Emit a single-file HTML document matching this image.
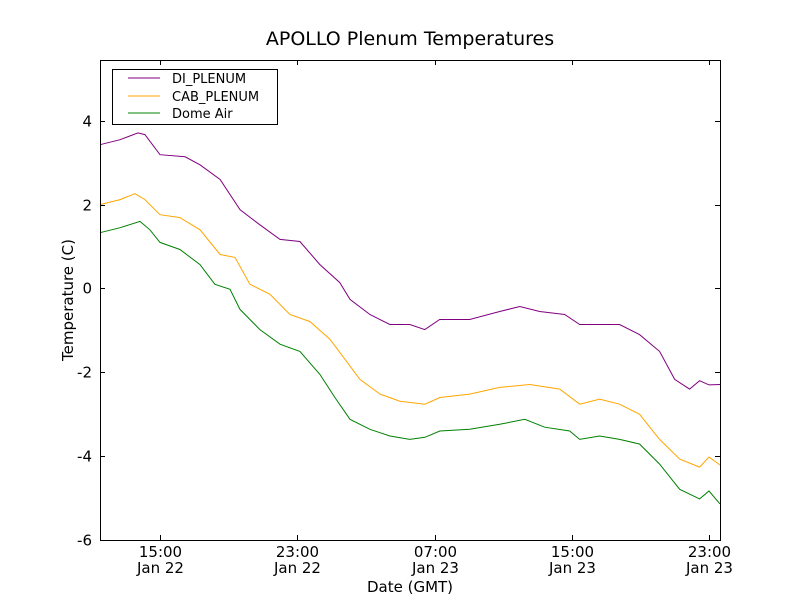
<!DOCTYPE html>
<html><head><meta charset="utf-8"><style>
body{margin:0;background:#fff;}
svg text{font-family:"DejaVu Sans","Liberation Sans",sans-serif;}
</style></head><body>
<svg id="chart" width="800" height="600" viewBox="0 0 800 600">
<rect x="0" y="0" width="800" height="600" fill="#fff"/>
<text x="410" y="45" font-size="19" text-anchor="middle">APOLLO Plenum Temperatures</text>
<g id="plot"></g>
<rect x="100.5" y="60.5" width="620" height="480" fill="none" stroke="#000"/>
<g id="axes"></g>
<text x="410" y="592" font-size="15" text-anchor="middle">Date (GMT)</text>
<text transform="translate(73,300) rotate(-90)" font-size="15" text-anchor="middle">Temperature (C)</text>
<g>
<rect x="112.5" y="69.5" width="165" height="55" fill="#fff" stroke="#000"/>
<line x1="128" y1="78" x2="160" y2="78" stroke="purple"/>
<text x="172" y="83" font-size="13">DI_PLENUM</text>
<line x1="128" y1="96" x2="160" y2="96" stroke="orange"/>
<text x="172" y="101" font-size="13">CAB_PLENUM</text>
<line x1="128" y1="113" x2="160" y2="113" stroke="green"/>
<text x="172" y="118" font-size="13">Dome Air</text>
</g>
</svg>
<script>
// hours since Jan 22 00:00 GMT
const diTimes=[11.5,12.67,13.71,14.12,15.0,16.46,17.33,18.5,19.66,20.82,21.99,23.15,24.32,25.48,26.07,27.23,28.4,29.56,30.43,31.3,33.05,34.8,35.97,37.13,38.59,39.46,40.62,41.79,42.95,44.12,45.0,45.87,46.45,47.0,47.64];
const diValues=[3.43,3.55,3.71,3.67,3.19,3.14,2.95,2.6,1.88,1.52,1.17,1.12,0.57,0.14,-0.26,-0.62,-0.86,-0.86,-0.98,-0.74,-0.74,-0.55,-0.43,-0.55,-0.62,-0.86,-0.86,-0.86,-1.1,-1.5,-2.17,-2.4,-2.2,-2.3,-2.29];
const cabTimes=[11.5,12.67,13.54,14.12,15.0,16.16,17.33,18.5,19.37,20.24,21.41,22.57,23.74,24.9,25.78,26.65,27.82,28.98,30.44,31.31,33.05,34.8,36.55,38.3,39.46,40.62,41.79,42.95,44.12,45.29,46.45,47.0,47.64];
const cabValues=[2.0,2.12,2.26,2.12,1.76,1.69,1.4,0.81,0.74,0.1,-0.14,-0.62,-0.79,-1.21,-1.69,-2.17,-2.52,-2.69,-2.76,-2.6,-2.52,-2.36,-2.29,-2.4,-2.76,-2.64,-2.76,-3.0,-3.6,-4.07,-4.26,-4.02,-4.21];
const domeTimes=[11.5,12.67,13.83,14.41,15.0,16.16,17.33,18.2,19.08,19.66,20.82,21.99,23.15,24.32,25.19,26.07,27.23,28.4,29.56,30.44,31.31,33.05,34.8,36.26,37.42,38.88,39.46,40.62,41.79,42.95,44.12,45.29,46.45,47.0,47.64];
const domeValues=[1.33,1.45,1.6,1.4,1.1,0.93,0.57,0.1,-0.02,-0.5,-0.98,-1.33,-1.5,-2.05,-2.6,-3.12,-3.36,-3.52,-3.6,-3.55,-3.4,-3.36,-3.24,-3.12,-3.31,-3.4,-3.6,-3.52,-3.6,-3.71,-4.19,-4.79,-5.02,-4.83,-5.14];
const yTicks=[4,2,0,-2,-4,-6];
const yTickLabels=["4","2","0","-2","-4","-6"];
const xTicks=[15,23,31,39,47];
const xTickTimes=["15:00","23:00","07:00","15:00","23:00"];
const xTickDates=["Jan 22","Jan 22","Jan 23","Jan 23","Jan 23"];

const L=100,R=720,T=60,B=540,X0=11.5,X1=47.64,Y0=-6,Y1=5.45;
const xs=h=>L+(h-X0)/(X1-X0)*(R-L);
const ys=v=>B-(v-Y0)/(Y1-Y0)*(B-T);
const NS="http://www.w3.org/2000/svg";
const plot=document.getElementById('plot'),axes=document.getElementById('axes');
function line(times,vals,color,name){
  const p=document.createElementNS(NS,'polyline');
  p.setAttribute('points',times.map((t,i)=>xs(t).toFixed(1)+','+ys(vals[i]).toFixed(1)).join(' '));
  p.setAttribute('fill','none');p.setAttribute('stroke',color);p.setAttribute('stroke-width','1');
  
  
  plot.appendChild(p);
}
line(diTimes,diValues,'purple','di-plenum-line');
line(cabTimes,cabValues,'orange','cab-plenum-line');
line(domeTimes,domeValues,'green','dome-air-line');
yTicks.forEach((v,i)=>{
  const y=Math.round(ys(v))+0.5;
  [[L,L+5],[R,R-5]].forEach(([a,b])=>{
    const l=document.createElementNS(NS,'line');
    l.setAttribute('x1',a);l.setAttribute('x2',b);l.setAttribute('y1',y);l.setAttribute('y2',y);l.setAttribute('stroke','#000');
    
    
    axes.appendChild(l);
  });
  const t=document.createElementNS(NS,'text');
  t.setAttribute('x',L-8);t.setAttribute('y',y+5);t.setAttribute('text-anchor','end');t.setAttribute('font-size','15');
  t.textContent=yTickLabels[i];
  
  
  axes.appendChild(t);
});
xTicks.forEach((h,i)=>{
  const x=Math.round(xs(h))+0.5;
  [[B,B-5],[T,T+5]].forEach(([a,b])=>{
    const l=document.createElementNS(NS,'line');
    l.setAttribute('x1',x);l.setAttribute('x2',x);l.setAttribute('y1',a);l.setAttribute('y2',b);l.setAttribute('stroke','#000');
    
    
    axes.appendChild(l);
  });
  [[xTickTimes[i],557],[xTickDates[i],573]].forEach(([s,y])=>{
    const t=document.createElementNS(NS,'text');
    t.setAttribute('x',x);t.setAttribute('y',y);t.setAttribute('text-anchor','middle');t.setAttribute('font-size','15');
    t.textContent=s;
    
    
    axes.appendChild(t);
  });
});
</script>
</body></html>
